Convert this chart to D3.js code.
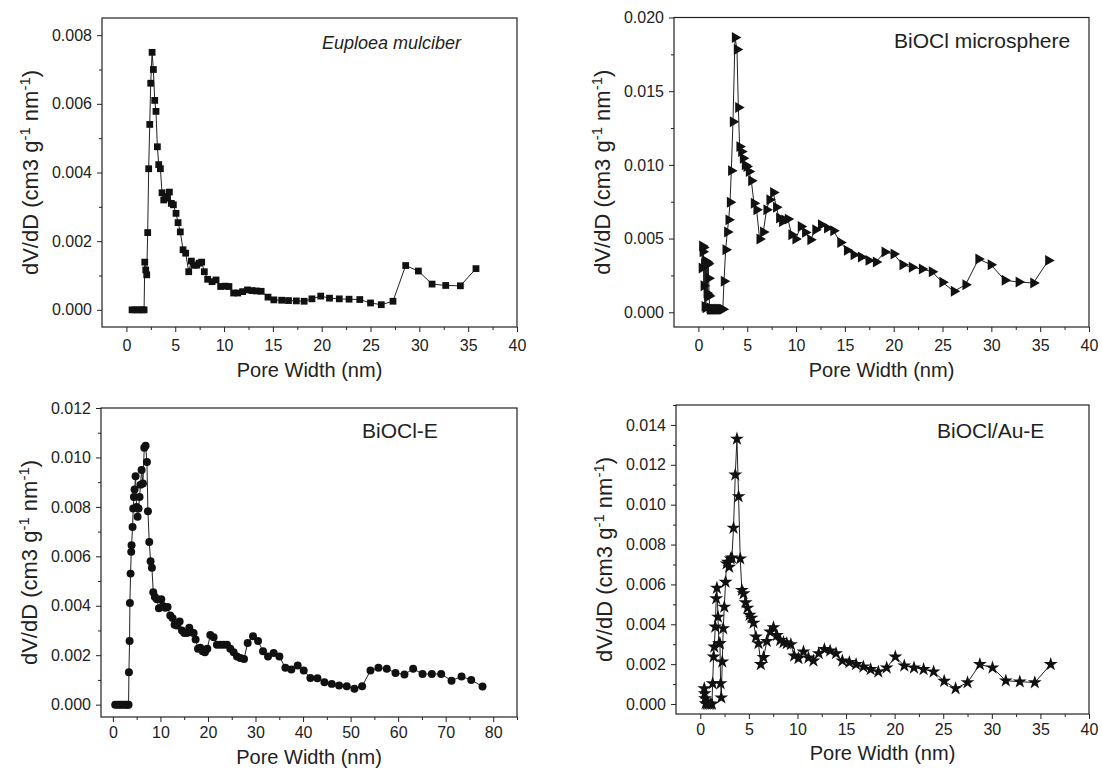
<!DOCTYPE html>
<html>
<head>
<meta charset="utf-8">
<script src="https://cdn.jsdelivr.net/npm/d3@7"></script>
<style>
  body { margin: 0; background: #fff; }
  text { font-family: Arial, "Liberation Sans", sans-serif; fill: #222; }
</style>
</head>
<body>
<div id="chart"></div>
<script>
var width = 1102,
    height = 769;

// Euploea mulciber (squares)
var euploeaX = [0.58,0.92,1.26,1.6,1.81,1.88,1.98,2.08,2.18,2.28,2.39,2.49,2.63,2.76,2.9,3.03,3.17,3.31,3.48,3.65,3.82,4.02,4.19,4.4,4.6,4.81,5.08,5.29,5.52,5.8,6.07,6.38,6.65,6.92,7.2,7.44,7.71,7.98,8.32,8.77,9.18,9.65,10.1,10.5,10.98,11.4,11.9,12.4,12.86,13.3,13.8,14.5,15.1,15.9,16.6,17.4,18.2,19.0,19.9,20.8,21.8,22.8,23.9,25.0,26.1,27.3,28.6,29.9,31.3,32.7,34.2,35.8];
var euploeaY = [0,0,0,0,0,0.00139,0.00116,0.00102,0.00225,0.00411,0.0054,0.0066,0.0075,0.0070,0.0061,0.00578,0.00475,0.00423,0.00411,0.00341,0.0032,0.0033,0.00325,0.00343,0.0031,0.00306,0.00281,0.00254,0.00227,0.00175,0.00165,0.00111,0.00142,0.0013,0.0013,0.00136,0.00139,0.00111,0.00089,0.00082,0.00087,0.00068,0.00069,0.00068,0.00049,0.00049,0.00053,0.00058,0.00056,0.00055,0.00054,0.00037,0.00029,0.00028,0.00027,0.00026,0.00025,0.00032,0.0004,0.00034,0.00032,0.00031,0.0003,0.0002,0.00015,0.00025,0.00129,0.00113,0.00075,0.00071,0.0007,0.0012];

// BiOCl microsphere (right triangles)
var sphereX = [0.35,0.40,0.45,0.50,0.55,0.60,0.65,0.70,0.75,0.80,0.85,0.90,0.95,1.00,1.05,1.10,1.15,1.2,1.3,1.4,1.5,1.6,1.7,1.8,1.9,2.0,2.1,2.2,2.3,2.4,2.5,2.62,2.79,2.96,3.1,3.24,3.37,3.54,3.75,3.95,4.09,4.22,4.4,4.57,4.77,4.94,5.18,5.42,5.69,5.96,6.27,6.64,6.98,7.29,7.67,7.97,8.28,8.59,8.82,9.17,9.54,9.95,10.5,10.94,11.48,11.99,12.57,13.19,13.83,14.55,15.23,15.91,16.66,17.44,18.19,19.08,20.0,20.92,21.87,22.9,23.92,25.0,26.17,27.36,28.69,29.95,31.38,32.81,34.31,35.84];
var sphereY = [0.0030,0.0045,0.0041,0.0044,0.0018,0.0033,0.0004,0.0035,0.0003,0.0032,0.0013,0.0034,0.0012,0.0033,0.0023,0.0011,0.0003,0.0002,0.0002,0.0002,0.0002,0.0002,0.0002,0.0002,0.0002,0.0002,0.0002,0.0002,0.0002,0.0002,0.0002,0.0021,0.00424,0.00544,0.00627,0.00747,0.00961,0.01293,0.01864,0.01783,0.0139,0.01124,0.0109,0.01045,0.0100,0.00989,0.00955,0.00892,0.0074,0.00695,0.00497,0.00544,0.00695,0.00763,0.00812,0.00713,0.00639,0.00616,0.00627,0.00632,0.00526,0.00497,0.00582,0.00542,0.00492,0.0056,0.00594,0.00571,0.00553,0.00474,0.0042,0.0039,0.00375,0.00352,0.00341,0.00409,0.00395,0.00323,0.00305,0.00293,0.00275,0.00203,0.00142,0.00187,0.00361,0.00323,0.00217,0.00205,0.00199,0.00352];

// BiOCl-E (circles)
var bioclEX = [0.49,0.98,1.4,1.8,2.25,2.67,3.09,3.3,3.37,3.51,3.58,3.72,3.86,3.93,4.14,4.28,4.42,4.56,4.77,4.98,5.19,5.4,5.61,5.82,6.04,6.32,6.6,6.88,7.16,7.37,7.65,7.93,8.21,8.49,8.84,9.26,9.68,10.18,10.53,11.02,11.5,12.07,12.56,12.98,13.47,14.04,14.53,15.02,15.58,16.07,16.49,16.98,17.4,17.9,18.39,18.88,19.37,19.86,20.49,21.19,21.89,22.6,23.3,24.0,24.7,25.4,26.1,26.8,27.58,28.35,29.47,30.53,31.58,32.63,33.82,35.02,36.28,37.54,38.88,40.14,41.54,43.02,44.5,46.04,47.58,49.19,50.81,52.42,54.18,55.86,57.61,59.44,61.33,63.16,65.12,67.09,69.05,71.23,73.33,75.37,77.75];
var bioclEY = [0,0,0,0,0,0,0,0,0.00131,0.00257,0.00411,0.0053,0.00618,0.00645,0.00719,0.00793,0.0084,0.0087,0.00924,0.008,0.0076,0.00793,0.0084,0.0089,0.00949,0.00895,0.01039,0.01047,0.00982,0.00782,0.00658,0.0058,0.00554,0.00455,0.00435,0.00426,0.0039,0.00426,0.00399,0.00392,0.00395,0.00361,0.0035,0.00323,0.0032,0.00336,0.003,0.0029,0.0029,0.00311,0.00293,0.0029,0.00264,0.00226,0.0023,0.00216,0.00212,0.00226,0.00282,0.00273,0.00242,0.00242,0.00242,0.00242,0.00226,0.00212,0.00195,0.00189,0.00185,0.00249,0.00277,0.00257,0.00216,0.00195,0.00209,0.00195,0.00149,0.00142,0.00158,0.00138,0.00108,0.00107,0.00091,0.00084,0.00077,0.00074,0.00064,0.00074,0.00138,0.00149,0.00145,0.00128,0.00122,0.00145,0.00124,0.00124,0.00124,0.00097,0.00114,0.001,0.00073];

// BiOCl/Au-E (stars)
var auX = [0.41,0.45,0.48,0.55,0.68,0.86,1.03,1.2,1.27,1.37,1.44,1.54,1.64,1.71,1.82,1.92,2.02,2.09,2.16,2.26,2.36,2.47,2.6,2.71,2.84,2.98,3.12,3.25,3.42,3.6,3.77,3.94,4.11,4.28,4.45,4.66,4.86,5.07,5.27,5.48,5.72,5.99,6.23,6.51,6.85,7.19,7.53,7.88,8.22,8.56,8.9,9.32,9.66,10.1,10.62,11.13,11.64,12.19,12.77,13.36,13.97,14.62,15.34,16.03,16.78,17.53,18.32,19.18,20.07,20.99,21.99,22.98,24.01,25.1,26.27,27.5,28.77,30.07,31.44,32.88,34.42,36.06];
var auY = [0.00078,0.00053,0.00028,0.00003,0,0,0,0,0.00103,0.00237,0.00287,0.00387,0.00529,0.00582,0.00437,0.00304,0.00304,0.00103,0.00032,0.00212,0.00379,0.00487,0.00612,0.00704,0.00712,0.00687,0.00729,0.00734,0.00883,0.0115,0.0133,0.01041,0.00729,0.00571,0.00554,0.00509,0.00482,0.00446,0.00432,0.00407,0.00337,0.00304,0.00199,0.00234,0.00315,0.00362,0.00384,0.00345,0.0032,0.00309,0.00304,0.00299,0.00242,0.00229,0.00262,0.00232,0.00217,0.00254,0.00275,0.00267,0.00254,0.00217,0.00209,0.00199,0.00187,0.00174,0.00162,0.00182,0.00237,0.00192,0.00182,0.00174,0.00162,0.00115,0.00078,0.00108,0.00199,0.00182,0.00117,0.00112,0.00108,0.00199];

var xTicks40 = [0,5,10,15,20,25,30,35,40],
    xTicks80 = [0,10,20,30,40,50,60,70,80];

var svg = d3.select("#chart").append("svg")
  .attr("width", width)
  .attr("height", height);

svg.append("rect").attr("width", width).attr("height", height).attr("fill", "#fff");

var panels = [
  {box: {l: 102, r: 517, t: 18, b: 327}, xd: [-2.5, 40], yd: [-0.0005, 0.0085],
   xMajor: xTicks40, xStep: 2.5, yMajor: d3.range(0, 0.0081, 0.002), yStep: 0.001,
   xs: euploeaX, ys: euploeaY, sym: d3.symbolSquare, size: 46, rot: 0,
   title: "Euploea mulciber", italic: true, tfs: 18, tx: 322, ty: 49, labPad: 8, titleOff: 50},
  {box: {l: 674, r: 1089, t: 17.5, b: 327}, xd: [-2.5, 40], yd: [-0.001, 0.020],
   xMajor: xTicks40, xStep: 2.5, yMajor: d3.range(0, 0.0201, 0.005), yStep: 0.0025,
   xs: sphereX, ys: sphereY, sym: d3.symbolTriangle, size: 52, rot: 90,
   title: "BiOCl microsphere", italic: false, tfs: 21, tx: 894, ty: 48, labPad: 8, titleOff: 50},
  {box: {l: 101, r: 517, t: 408, b: 717}, xd: [-2.5, 85], yd: [-0.0005, 0.012],
   xMajor: xTicks80, xStep: 5, yMajor: d3.range(0, 0.0121, 0.002), yStep: 0.001,
   xs: bioclEX, ys: bioclEY, sym: d3.symbolCircle, size: 50, rot: 0,
   title: "BiOCl-E", italic: false, tfs: 21, tx: 362, ty: 438, labPad: 5, titleOff: 47},
  {box: {l: 676, r: 1089, t: 405, b: 714}, xd: [-2.5, 40], yd: [-0.0005, 0.015],
   xMajor: xTicks40, xStep: 2.5, yMajor: d3.range(0, 0.0141, 0.002), yStep: 0.001,
   xs: auX, ys: auY, sym: d3.symbolStar, size: 60, rot: 0,
   title: "BiOCl/Au-E", italic: false, tfs: 21, tx: 937, ty: 438, labPad: 5, titleOff: 46}
];

panels.forEach(function(p) {
  var b = p.box;
  var x = d3.scaleLinear().domain(p.xd).range([b.l, b.r]);
  var y = d3.scaleLinear().domain(p.yd).range([b.b, b.t]);

  // minor ticks (every half step between majors)
  var xMinor = d3.range(0, p.xd[1] + 0.001, p.xStep).filter(function(v) {
    return p.xMajor.indexOf(+v.toFixed(3)) < 0;
  });
  var yMinor = d3.range(0, p.yd[1] + 1e-9, p.yStep).filter(function(v) {
    return !p.yMajor.some(function(m) { return Math.abs(m - v) < 1e-9; });
  });

  svg.append("g")
    .attr("transform", "translate(0," + b.b + ")")
    .call(d3.axisBottom(x).tickValues(xMinor).tickSize(3).tickFormat(""))
    .call(function(g) { g.select(".domain").remove(); });

  svg.append("g")
    .attr("transform", "translate(" + b.l + ",0)")
    .call(d3.axisLeft(y).tickValues(yMinor).tickSize(3).tickFormat(""))
    .call(function(g) { g.select(".domain").remove(); });

  var xa = svg.append("g")
    .attr("transform", "translate(0," + b.b + ")")
    .call(d3.axisBottom(x).tickValues(p.xMajor).tickSize(5).tickPadding(p.labPad).tickFormat(d3.format("d")))
    .call(function(g) { g.select(".domain").remove(); });
  xa.attr("font-family", null).attr("font-size", 16);

  var ya = svg.append("g")
    .attr("transform", "translate(" + b.l + ",0)")
    .call(d3.axisLeft(y).tickValues(p.yMajor).tickSize(5).tickPadding(5).tickFormat(d3.format(".3f")))
    .call(function(g) { g.select(".domain").remove(); });
  ya.attr("font-family", null).attr("font-size", 16);

  svg.selectAll(".tick line").attr("stroke", "#222");
  svg.selectAll(".tick text").attr("fill", "#222");

  // frame
  svg.append("rect")
    .attr("x", b.l).attr("y", b.t)
    .attr("width", b.r - b.l).attr("height", b.b - b.t)
    .attr("fill", "none").attr("stroke", "#222").attr("stroke-width", 1.2);

  var pts = p.xs.map(function(v, i) { return [v, p.ys[i]]; });

  svg.append("path")
    .datum(pts)
    .attr("fill", "none")
    .attr("stroke", "#222")
    .attr("stroke-width", 1)
    .attr("d", d3.line().x(function(d) { return x(d[0]); }).y(function(d) { return y(d[1]); }));

  svg.append("g").selectAll("path")
    .data(pts)
    .enter()
    .append("path")
    .attr("d", d3.symbol().type(p.sym).size(p.size))
    .attr("transform", function(d) {
      return "translate(" + x(d[0]) + "," + y(d[1]) + ") rotate(" + p.rot + ")";
    })
    .attr("fill", "#111");

  // panel label
  svg.append("text")
    .attr("x", p.tx).attr("y", p.ty)
    .attr("font-size", p.tfs)
    .style("font-style", p.italic ? "italic" : "normal")
    .text(p.title);

  // x title
  svg.append("text")
    .attr("x", (b.l + b.r) / 2).attr("y", b.b + p.titleOff)
    .attr("text-anchor", "middle")
    .attr("font-size", 20)
    .text("Pore Width (nm)");

  // y title
  var yt = svg.append("text")
    .attr("transform", "translate(" + (b.l - 72) + "," + ((b.t + b.b) / 2) + ") rotate(-90)")
    .attr("text-anchor", "middle")
    .attr("dy", "0.35em")
    .attr("font-size", 22);
  yt.append("tspan").text("dV/dD (cm3 g");
  yt.append("tspan").attr("baseline-shift", "super").attr("font-size", 15).text("-1");
  yt.append("tspan").text(" nm");
  yt.append("tspan").attr("baseline-shift", "super").attr("font-size", 15).text("-1");
  yt.append("tspan").text(")");
});
</script>
</body>
</html>
